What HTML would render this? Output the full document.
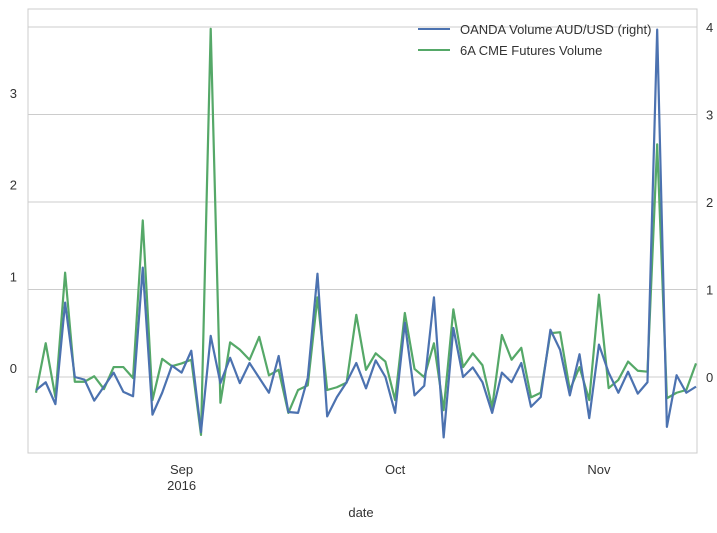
<!DOCTYPE html>
<html><head><meta charset="utf-8"><style>
body{margin:0;background:#fff;width:717px;height:528px;overflow:hidden}
svg text{font-family:"Liberation Sans",sans-serif;fill:#333;font-size:13px}
</style></head><body>
<svg id="chart" width="717" height="528" xmlns="http://www.w3.org/2000/svg"></svg>
<script>
const greenValues=[-0.27,0.27,-0.32,1.04,-0.15,-0.15,-0.09,-0.23,0.01,0.01,-0.11,1.61,-0.35,0.10,0.02,0.05,0.09,-0.73,3.70,-0.38,0.28,0.20,0.09,0.34,-0.08,-0.02,-0.49,-0.24,-0.19,0.77,-0.24,-0.21,-0.16,0.58,-0.02,0.16,0.07,-0.35,0.60,-0.01,-0.10,0.27,-0.46,0.64,0.01,0.16,0.03,-0.43,0.36,0.09,0.22,-0.32,-0.27,0.38,0.39,-0.24,0.01,-0.35,0.80,-0.22,-0.13,0.07,-0.03,-0.04,2.44,-0.33,-0.27,-0.24,0.05];
const blueValues=[-0.15,-0.06,-0.31,0.85,0.00,-0.03,-0.27,-0.11,0.05,-0.17,-0.22,1.25,-0.43,-0.18,0.13,0.05,0.30,-0.63,0.47,-0.07,0.22,-0.07,0.16,-0.01,-0.18,0.24,-0.40,-0.41,-0.01,1.18,-0.45,-0.23,-0.06,0.16,-0.13,0.19,0.00,-0.41,0.62,-0.21,-0.10,0.91,-0.69,0.56,0.00,0.11,-0.06,-0.41,0.05,-0.06,0.16,-0.34,-0.23,0.54,0.31,-0.21,0.26,-0.47,0.37,0.05,-0.18,0.06,-0.19,-0.06,3.97,-0.57,0.02,-0.18,-0.11];
const leftTicks=[0,1,2,3];
const rightTicks=[0,1,2,3,4];
const xTickIdx=[15,37,58];
const xTickLabels=[["Sep","2016"],["Oct"],["Nov"]];
const NS="http://www.w3.org/2000/svg";
const svg=document.getElementById('chart');
const L=28,R=697,T=9,B=453;
const n=greenValues.length;
const xS=i=>36+i*(696-36)/(n-1);
const yL=v=>368-v*91.67;
const yR=v=>377-v*87.5;
function mk(tag,attrs,parent){const e=document.createElementNS(NS,tag);for(const k in attrs)e.setAttribute(k,attrs[k]);(parent||svg).appendChild(e);return e;}
const frame=mk('rect',{x:L,y:T,width:R-L,height:B-T,fill:'#fff',stroke:'#ccc','stroke-width':1});


rightTicks.forEach(t=>{
  const g=mk('line',{x1:L,x2:R,y1:yR(t),y2:yR(t),stroke:'#ccc','stroke-width':1});
  
  
  const tx=mk('text',{x:706,y:yR(t)+5});tx.textContent=t;
  
  
});
leftTicks.forEach(t=>{
  const tx=mk('text',{x:17,y:yL(t)+5,'text-anchor':'end'});tx.textContent=t;
  
  
});
xTickIdx.forEach((i,k)=>{
  xTickLabels[k].forEach((s,j)=>{
    const tx=mk('text',{x:xS(i),y:474+j*16,'text-anchor':'middle'});tx.textContent=s;
    
    
  });
});
const xl=mk('text',{x:361,y:517,'text-anchor':'middle','font-size':'14'});xl.textContent='date';


const gp=mk('polyline',{points:greenValues.map((v,i)=>xS(i)+','+yL(v)).join(' '),fill:'none',stroke:'#55a868','stroke-width':2.2,'stroke-linejoin':'round'});


const bp=mk('polyline',{points:blueValues.map((v,i)=>xS(i)+','+yR(v)).join(' '),fill:'none',stroke:'#4c72b0','stroke-width':2.2,'stroke-linejoin':'round'});


const legend=mk('g',{});


[['OANDA Volume AUD/USD (right)','#4c72b0',29],['6A CME Futures Volume','#55a868',50]].forEach(([s,c,y])=>{
  const ln=mk('line',{x1:418,x2:450,y1:y,y2:y,stroke:c,'stroke-width':2},legend);
  
  
  const tx=mk('text',{x:460,y:y+5},legend);tx.textContent=s;
  
  
});
</script>
</body></html>
